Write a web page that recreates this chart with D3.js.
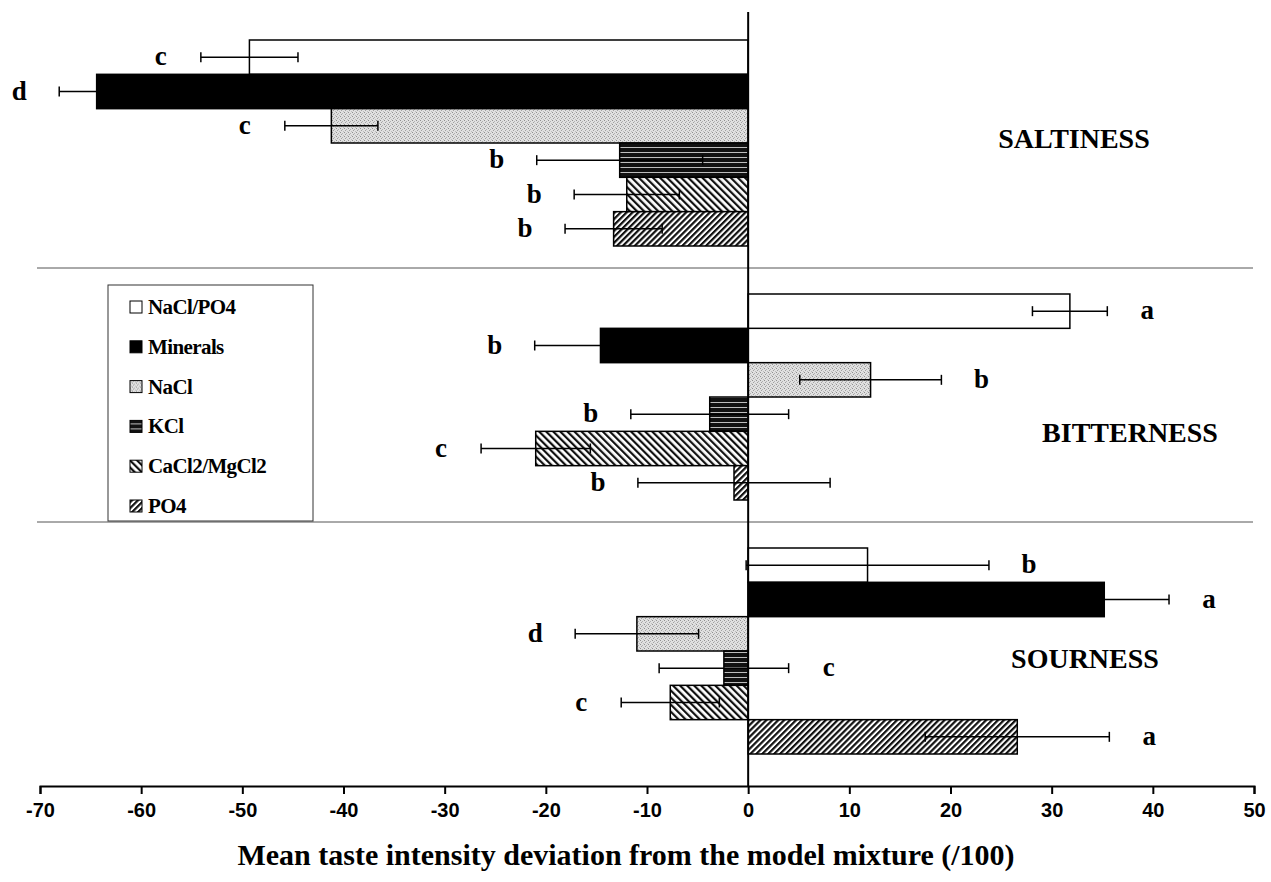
<!DOCTYPE html>
<html>
<head>
<meta charset="utf-8">
<script src="https://cdn.jsdelivr.net/npm/d3@7"></script>
<style>
  body { margin: 0; background: #fff; }
</style>
</head>
<body>
<script>
var w = 1271;
var h = 882;

// data
var series = ["NaCl/PO4", "Minerals", "NaCl", "KCl", "CaCl2/MgCl2", "PO4"];
var tastes = ["SALTINESS", "BITTERNESS", "SOURNESS"];

var saltMean   = [-49.3, -64.4, -41.2, -12.7, -12.0, -13.3];
var saltSd     = [4.8, 3.7, 4.6, 8.2, 5.2, 4.8];
var saltLetter = ["c", "d", "c", "b", "b", "b"];
var saltSide   = ["left", "left", "left", "left", "left", "left"];

var bitterMean   = [31.8, -14.6, 12.1, -3.8, -21.0, -1.4];
var bitterSd     = [3.7, 6.5, 7.0, 7.8, 5.4, 9.5];
var bitterLetter = ["a", "b", "b", "b", "c", "b"];
var bitterSide   = ["right", "left", "right", "left", "left", "left"];

var sourMean   = [11.8, 35.2, -11.0, -2.4, -7.7, 26.6];
var sourSd     = [12.0, 6.4, 6.1, 6.4, 4.85, 9.1];
var sourLetter = ["b", "a", "d", "c", "c", "a"];
var sourSide   = ["right", "right", "left", "right", "left", "right"];

var xTicks = [-70, -60, -50, -40, -30, -20, -10, 0, 10, 20, 30, 40, 50];
var xTitle = "Mean taste intensity deviation from the model mixture (/100)";

var means = [saltMean, bitterMean, sourMean];
var sds = [saltSd, bitterSd, sourSd];
var letters = [saltLetter, bitterLetter, sourLetter];
var sides = [saltSide, bitterSide, sourSide];

var rows = [];
tastes.forEach(function(t, i) {
  series.forEach(function(s, j) {
    rows.push({taste: t, series: s, mean: means[i][j], sd: sds[i][j],
               letter: letters[i][j], side: sides[i][j]});
  });
});

var svg = d3.select("body").append("svg")
  .attr("width", w)
  .attr("height", h);

// fill patterns
var defs = svg.append("defs");

var pNaCl = defs.append("pattern").attr("id", "pNaCl")
  .attr("width", 4).attr("height", 4).attr("patternUnits", "userSpaceOnUse");
pNaCl.append("rect").attr("width", 4).attr("height", 4).attr("fill", "#e0e0e0");
[[0, 0, "#909090"], [2, 1, "#b0b0b0"], [1, 2, "#a0a0a0"], [3, 3, "#bcbcbc"]].forEach(function(p) {
  pNaCl.append("rect").attr("x", p[0]).attr("y", p[1]).attr("width", 1).attr("height", 1).attr("fill", p[2]);
});

var pKCl = defs.append("pattern").attr("id", "pKCl")
  .attr("width", 10).attr("height", 5).attr("patternUnits", "userSpaceOnUse");
pKCl.append("rect").attr("width", 10).attr("height", 5).attr("fill", "#111");
pKCl.append("rect").attr("y", 2).attr("width", 10).attr("height", 1).attr("fill", "#bdbdbd");

var pCa = defs.append("pattern").attr("id", "pCa")
  .attr("width", 5).attr("height", 5).attr("patternUnits", "userSpaceOnUse")
  .attr("patternTransform", "rotate(-45)");
pCa.append("rect").attr("width", 5).attr("height", 5).attr("fill", "#fff");
pCa.append("rect").attr("width", 2.2).attr("height", 5).attr("fill", "#111");

var pPO4 = defs.append("pattern").attr("id", "pPO4")
  .attr("width", 4.2).attr("height", 4.2).attr("patternUnits", "userSpaceOnUse")
  .attr("patternTransform", "rotate(45)");
pPO4.append("rect").attr("width", 4.2).attr("height", 4.2).attr("fill", "#fff");
pPO4.append("rect").attr("width", 2.2).attr("height", 4.2).attr("fill", "#111");

var fills = {
  "NaCl/PO4": "#fff",
  "Minerals": "#000",
  "NaCl": "url(#pNaCl)",
  "KCl": "url(#pKCl)",
  "CaCl2/MgCl2": "url(#pCa)",
  "PO4": "url(#pPO4)"
};

// scales
var x = d3.scaleLinear().domain([-70, 50]).range([40, 1254]);
var yPanel = d3.scaleBand().domain(tastes).range([14, 776]);
var yBar = d3.scaleBand().domain(series).range([26, 232]);

function barY(d) { return yPanel(d.taste) + yBar(d.series); }
function midY(d) { return barY(d) + yBar.bandwidth() / 2; }

// panel separators
svg.selectAll("line.sep")
  .data(tastes.slice(1))
  .enter()
  .append("line")
  .attr("class", "sep")
  .attr("x1", 37).attr("x2", 1253)
  .attr("y1", function(d) { return yPanel(d); })
  .attr("y2", function(d) { return yPanel(d); })
  .attr("stroke", "#555")
  .attr("stroke-width", 1);

// bars
svg.selectAll("rect.bar")
  .data(rows)
  .enter()
  .append("rect")
  .attr("class", "bar")
  .attr("x", function(d) { return x(Math.min(0, d.mean)); })
  .attr("y", barY)
  .attr("width", function(d) { return Math.abs(x(d.mean) - x(0)); })
  .attr("height", yBar.bandwidth())
  .attr("fill", function(d) { return fills[d.series]; })
  .attr("stroke", "#000")
  .attr("stroke-width", 1.5);

// error bars
var err = svg.selectAll("g.err")
  .data(rows)
  .enter()
  .append("g")
  .attr("class", "err")
  .attr("stroke", "#000")
  .attr("stroke-width", 1.5);

err.append("line")
  .attr("x1", function(d) { return x(d.mean - d.sd); })
  .attr("x2", function(d) { return x(d.mean + d.sd); })
  .attr("y1", midY).attr("y2", midY);
err.append("line")
  .attr("x1", function(d) { return x(d.mean - d.sd); })
  .attr("x2", function(d) { return x(d.mean - d.sd); })
  .attr("y1", function(d) { return midY(d) - 5; })
  .attr("y2", function(d) { return midY(d) + 5; });
err.append("line")
  .attr("x1", function(d) { return x(d.mean + d.sd); })
  .attr("x2", function(d) { return x(d.mean + d.sd); })
  .attr("y1", function(d) { return midY(d) - 5; })
  .attr("y2", function(d) { return midY(d) + 5; });

// significance letters
svg.selectAll("text.letter")
  .data(rows)
  .enter()
  .append("text")
  .attr("class", "letter")
  .text(function(d) { return d.letter; })
  .attr("x", function(d) {
    return d.side == "left" ? x(d.mean - d.sd) - 40 : x(d.mean + d.sd) + 40;
  })
  .attr("y", function(d) { return midY(d) + 8; })
  .attr("text-anchor", "middle")
  .attr("font-family", "'Liberation Serif', 'Times New Roman', serif")
  .attr("font-weight", "bold")
  .attr("font-size", "27px")
  .attr("fill", "#000");

// panel names
var panelLabelX = [1074, 1130, 1085];
var panelLabelDy = [134, 174, 146];
svg.selectAll("text.taste")
  .data(tastes)
  .enter()
  .append("text")
  .attr("class", "taste")
  .text(function(d) { return d; })
  .attr("x", function(d, i) { return panelLabelX[i]; })
  .attr("y", function(d, i) { return yPanel(d) + panelLabelDy[i]; })
  .attr("text-anchor", "middle")
  .attr("font-family", "'Liberation Serif', 'Times New Roman', serif")
  .attr("font-weight", "bold")
  .attr("font-size", "28px")
  .attr("fill", "#000");

// zero line
svg.append("line")
  .attr("x1", x(0)).attr("x2", x(0))
  .attr("y1", 12).attr("y2", 786)
  .attr("stroke", "#000")
  .attr("stroke-width", 2);

// x axis
var xAxis = svg.append("g")
  .attr("transform", "translate(0,786)")
  .call(d3.axisBottom(x)
    .tickValues(xTicks)
    .tickSize(8)
    .tickPadding(9)
    .tickFormat(function(d) { return String(d); }));
xAxis.select(".domain").attr("stroke-width", 2);
xAxis.selectAll(".tick line").attr("stroke-width", 2);
xAxis.selectAll("text")
  .attr("font-family", "'Liberation Sans', Arial, sans-serif")
  .attr("font-weight", "bold")
  .attr("font-size", "20px")
  .attr("fill", "#000");

svg.append("text")
  .text(xTitle)
  .attr("x", 626)
  .attr("y", 865)
  .attr("text-anchor", "middle")
  .attr("font-family", "'Liberation Serif', 'Times New Roman', serif")
  .attr("font-weight", "bold")
  .attr("font-size", "30px")
  .attr("fill", "#000");

// legend
var legend = svg.append("g");
legend.append("rect")
  .attr("x", 108).attr("y", 285)
  .attr("width", 205).attr("height", 236)
  .attr("fill", "#fff")
  .attr("stroke", "#333")
  .attr("stroke-width", 1);

var legendY = d3.scalePoint().domain(series).range([307, 506]);
var items = legend.selectAll("g.item")
  .data(series)
  .enter()
  .append("g")
  .attr("class", "item")
  .attr("transform", function(d) { return "translate(0," + legendY(d) + ")"; });

items.append("rect")
  .attr("x", 130).attr("y", -6)
  .attr("width", 12).attr("height", 12)
  .attr("fill", function(d) { return fills[d]; })
  .attr("stroke", "#000")
  .attr("stroke-width", 1);

items.append("text")
  .text(function(d) { return d; })
  .attr("x", 148)
  .attr("y", 7)
  .attr("font-family", "'Liberation Serif', 'Times New Roman', serif")
  .attr("font-weight", "bold")
  .attr("font-size", "21px")
  .attr("letter-spacing", "-0.6px")
  .attr("fill", "#000");
</script>
</body>
</html>
